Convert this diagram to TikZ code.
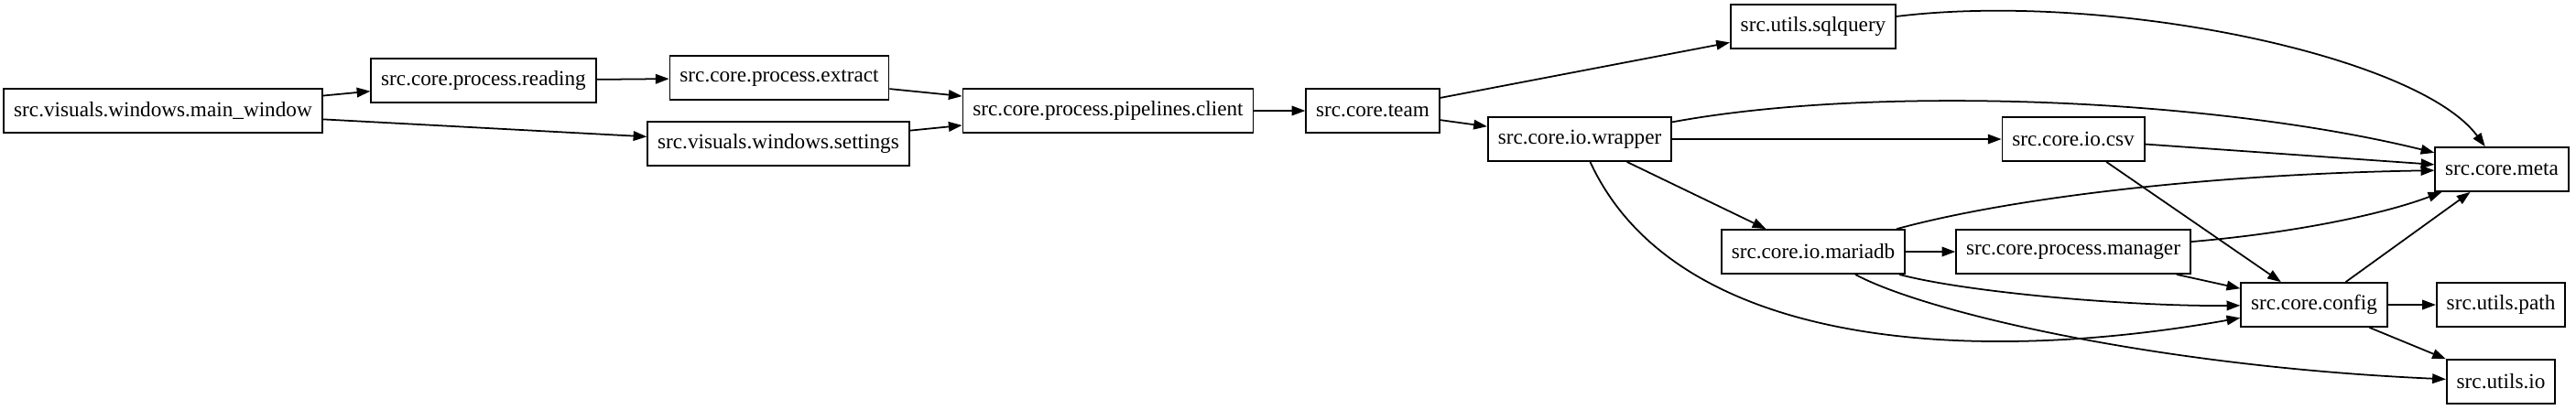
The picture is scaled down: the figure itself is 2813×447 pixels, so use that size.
\documentclass[tikz,border=0pt]{standalone}
\usepackage{fontspec}
\setmainfont{Liberation Serif}
\usetikzlibrary{arrows.meta}

\begin{document}
\begin{tikzpicture}[x=0.01cm, y=-0.01cm, >={Triangle[length=4.2pt,width=3pt]},
  every node/.style={draw, line width=0.5pt, minimum height=0.48cm, inner xsep=3.1pt,
    font=\fontsize{6.6}{8}\selectfont},
  every path/.style={line width=0.5pt}]
\useasboundingbox (0,0) rectangle (2813,447);
\node (A) at (178,121)  {src.visuals.windows.main\_window};
\node (B) at (528,88)   {src.core.process.reading};
\node (C) at (851,85)   {src.core.process.extract};
\node (D) at (850,157)  {src.visuals.windows.settings};
\node (E) at (1210,121) {src.core.process.pipelines.client};
\node (F) at (1499,121) {src.core.team};
\node (G) at (1980,29)  {src.utils.sqlquery};
\node (H) at (1725,152) {src.core.io.wrapper};
\node (I) at (2264,152) {src.core.io.csv};
\node (J) at (2732,185) {src.core.meta};
\node (K) at (1980,275) {src.core.io.mariadb};
\node (L) at (2264,275) {src.core.process.manager};
\node (M) at (2527,333) {src.core.config};
\node (N) at (2731,333) {src.utils.path};
\node (O) at (2731,417) {src.utils.io};

\draw[->] (A) -- (B);
\draw[->] (A) -- (D);
\draw[->] (B) -- (C);
\draw[->] (C) -- (E);
\draw[->] (D) -- (E);
\draw[->] (E) -- (F);
\draw[->] (F) -- (G);
\draw[->] (F) -- (H);
\draw[->] (G) .. controls (2300,-10) and (2640,60) .. (J);
\draw[->] (H) .. controls (2050,92) and (2420,108) .. (J);
\draw[->] (H) -- (I);
\draw[->] (H) -- (K);
\draw[->] (H) .. controls (1830,380) and (2150,400) .. (M);
\draw[->] (I) -- (J);
\draw[->] (I) -- (M);
\draw[->] (K) .. controls (2200,215) and (2420,190) .. (J);
\draw[->] (K) -- (L);
\draw[->] (K) .. controls (2150,320) and (2330,335) .. (M);
\draw[->] (K) .. controls (2100,340) and (2350,400) .. (O);
\draw[->] (L) .. controls (2500,255) and (2600,235) .. (J);
\draw[->] (L) -- (M);
\draw[->] (M) -- (J);
\draw[->] (M) -- (N);
\draw[->] (M) -- (O);
\end{tikzpicture}
\end{document}
